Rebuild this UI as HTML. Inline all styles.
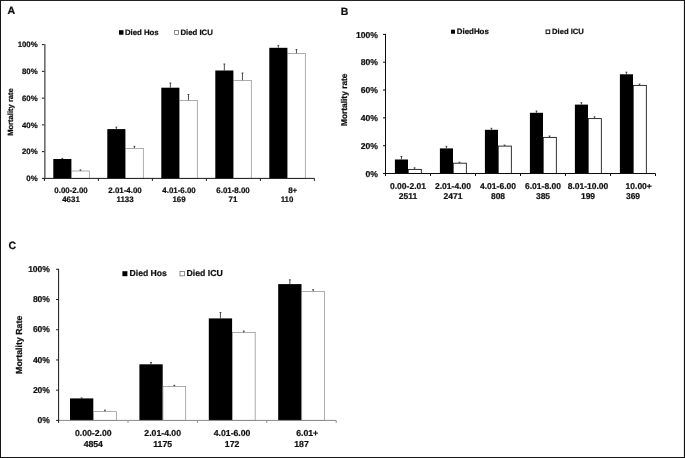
<!DOCTYPE html>
<html lang="en"><head><meta charset="utf-8"><title>Mortality rate figure</title>
<style>
html,body{margin:0;padding:0;background:#fff}
body{width:685px;height:458px;overflow:hidden}
svg{display:block}
svg text{font-family:"Liberation Sans",sans-serif;font-weight:bold;fill:#111;stroke:#111;stroke-width:0.22px;text-rendering:geometricPrecision}
</style></head><body>
<svg width="685" height="458" viewBox="0 0 685 458">
<defs><filter id="soft" x="-2%" y="-2%" width="104%" height="104%"><feGaussianBlur stdDeviation="0.35"/></filter></defs>
<rect x="0" y="0" width="685" height="458" fill="#fff"/>
<g filter="url(#soft)">
<rect x="53.3" y="159" width="18.1" height="19.4" fill="#000"/>
<rect x="71.65" y="171" width="17.6" height="7.4" fill="#fff" stroke="#777" stroke-width="0.6"/>
<path d="M62.35 159V158.3M61.45 158.3H63.25" stroke="#222" stroke-width="0.8" fill="none"/>
<path d="M80.45 170.7V169.9M79.55 169.9H81.35" stroke="#222" stroke-width="0.8" fill="none"/>
<rect x="107.3" y="129.1" width="18.1" height="49.3" fill="#000"/>
<rect x="125.65" y="148.4" width="17.6" height="30" fill="#fff" stroke="#777" stroke-width="0.6"/>
<path d="M116.35 129.1V127.1M115.45 127.1H117.25" stroke="#222" stroke-width="0.8" fill="none"/>
<path d="M134.45 148.1V146.4M133.55 146.4H135.35" stroke="#222" stroke-width="0.8" fill="none"/>
<rect x="161.3" y="87.7" width="18.1" height="90.7" fill="#000"/>
<rect x="179.65" y="100.5" width="17.6" height="77.9" fill="#fff" stroke="#777" stroke-width="0.6"/>
<path d="M170.35 87.7V83M169.45 83H171.25" stroke="#222" stroke-width="0.8" fill="none"/>
<path d="M188.45 100.2V94.5M187.55 94.5H189.35" stroke="#222" stroke-width="0.8" fill="none"/>
<rect x="215.3" y="70.5" width="18.1" height="107.9" fill="#000"/>
<rect x="233.65" y="80.5" width="17.6" height="97.9" fill="#fff" stroke="#777" stroke-width="0.6"/>
<path d="M224.35 70.5V64M223.45 64H225.25" stroke="#222" stroke-width="0.8" fill="none"/>
<path d="M242.45 80.2V73M241.55 73H243.35" stroke="#222" stroke-width="0.8" fill="none"/>
<rect x="269.3" y="47.8" width="18.1" height="130.6" fill="#000"/>
<rect x="287.65" y="53.5" width="17.6" height="124.9" fill="#fff" stroke="#777" stroke-width="0.6"/>
<path d="M278.35 47.8V45.6M277.45 45.6H279.25" stroke="#222" stroke-width="0.8" fill="none"/>
<path d="M296.45 53.2V49.6M295.55 49.6H297.35" stroke="#222" stroke-width="0.8" fill="none"/>
<path d="M44.4 178.4H314.4" stroke="#1a1a1a" stroke-width="1" fill="none"/>
<path d="M44.9 44.1V178.9" stroke="#1a1a1a" stroke-width="1" fill="none"/>
<path d="M41.9 178.4H44.4" stroke="#1a1a1a" stroke-width="1"/>
<text x="37.6" y="181.21" font-size="7.8" text-anchor="end">0%</text>
<path d="M41.9 151.64H44.4" stroke="#1a1a1a" stroke-width="1"/>
<text x="37.6" y="154.45" font-size="7.8" text-anchor="end">20%</text>
<path d="M41.9 124.88H44.4" stroke="#1a1a1a" stroke-width="1"/>
<text x="37.6" y="127.69" font-size="7.8" text-anchor="end">40%</text>
<path d="M41.9 98.12H44.4" stroke="#1a1a1a" stroke-width="1"/>
<text x="37.6" y="100.93" font-size="7.8" text-anchor="end">60%</text>
<path d="M41.9 71.36H44.4" stroke="#1a1a1a" stroke-width="1"/>
<text x="37.6" y="74.17" font-size="7.8" text-anchor="end">80%</text>
<path d="M41.9 44.6H44.4" stroke="#1a1a1a" stroke-width="1"/>
<text x="37.6" y="47.41" font-size="7.8" text-anchor="end">100%</text>
<path d="M44.4 178.4V180.9" stroke="#1a1a1a" stroke-width="1"/>
<path d="M98.4 178.4V180.9" stroke="#1a1a1a" stroke-width="1"/>
<path d="M152.4 178.4V180.9" stroke="#1a1a1a" stroke-width="1"/>
<path d="M206.4 178.4V180.9" stroke="#1a1a1a" stroke-width="1"/>
<path d="M260.4 178.4V180.9" stroke="#1a1a1a" stroke-width="1"/>
<path d="M314.4 178.4V180.9" stroke="#1a1a1a" stroke-width="1"/>
<text x="71" y="192.9" font-size="7.9" text-anchor="middle">0.00-2.00</text>
<text x="71" y="202.1" font-size="7.9" text-anchor="middle">4631</text>
<text x="125" y="192.9" font-size="7.9" text-anchor="middle">2.01-4.00</text>
<text x="125" y="202.1" font-size="7.9" text-anchor="middle">1133</text>
<text x="179" y="192.9" font-size="7.9" text-anchor="middle">4.01-6.00</text>
<text x="179" y="202.1" font-size="7.9" text-anchor="middle">169</text>
<text x="233" y="192.9" font-size="7.9" text-anchor="middle">6.01-8.00</text>
<text x="233" y="202.1" font-size="7.9" text-anchor="middle">71</text>
<text x="292.7" y="192.9" font-size="7.9" text-anchor="middle">8+</text>
<text x="287" y="202.1" font-size="7.9" text-anchor="middle">110</text>
<text transform="translate(12.7 112) rotate(-90)" font-size="7.6" text-anchor="middle">Mortality rate</text>
<text x="7.6" y="14.2" font-size="10.6">A</text>
<rect x="119" y="30.2" width="4.5" height="4.5" fill="#000"/>
<text x="124.9" y="35.2" font-size="7.8">Died Hos</text>
<rect x="174.7" y="30.5" width="3.9" height="3.9" fill="#fff" stroke="#444" stroke-width="0.6"/>
<text x="180.4" y="35.2" font-size="7.8">Died ICU</text>
<rect x="394.9" y="159.5" width="13.1" height="14" fill="#000"/>
<rect x="408.25" y="169.4" width="13.1" height="4.1" fill="#fff" stroke="#1a1a1a" stroke-width="0.9"/>
<path d="M401.45 159.5V156.5M400.55 156.5H402.35" stroke="#222" stroke-width="0.8" fill="none"/>
<path d="M414.55 169.1V167.8M413.65 167.8H415.45" stroke="#222" stroke-width="0.8" fill="none"/>
<rect x="439.9" y="148.4" width="13.1" height="25.1" fill="#000"/>
<rect x="453.25" y="163.2" width="13.1" height="10.3" fill="#fff" stroke="#1a1a1a" stroke-width="0.9"/>
<path d="M446.45 148.4V146.4M445.55 146.4H447.35" stroke="#222" stroke-width="0.8" fill="none"/>
<path d="M459.55 162.9V162.2M458.65 162.2H460.45" stroke="#222" stroke-width="0.8" fill="none"/>
<rect x="484.9" y="129.8" width="13.1" height="43.7" fill="#000"/>
<rect x="498.25" y="146.1" width="13.1" height="27.4" fill="#fff" stroke="#1a1a1a" stroke-width="0.9"/>
<path d="M491.45 129.8V128.3M490.55 128.3H492.35" stroke="#222" stroke-width="0.8" fill="none"/>
<path d="M504.55 145.8V145.1M503.65 145.1H505.45" stroke="#222" stroke-width="0.8" fill="none"/>
<rect x="529.9" y="112.8" width="13.1" height="60.7" fill="#000"/>
<rect x="543.25" y="137.4" width="13.1" height="36.1" fill="#fff" stroke="#1a1a1a" stroke-width="0.9"/>
<path d="M536.45 112.8V111M535.55 111H537.35" stroke="#222" stroke-width="0.8" fill="none"/>
<path d="M549.55 137.1V136M548.65 136H550.45" stroke="#222" stroke-width="0.8" fill="none"/>
<rect x="574.9" y="104.6" width="13.1" height="68.9" fill="#000"/>
<rect x="588.25" y="118.6" width="13.1" height="54.9" fill="#fff" stroke="#1a1a1a" stroke-width="0.9"/>
<path d="M581.45 104.6V102.7M580.55 102.7H582.35" stroke="#222" stroke-width="0.8" fill="none"/>
<path d="M594.55 118.3V116.8M593.65 116.8H595.45" stroke="#222" stroke-width="0.8" fill="none"/>
<rect x="619.9" y="74.3" width="13.1" height="99.2" fill="#000"/>
<rect x="633.25" y="85.4" width="13.1" height="88.1" fill="#fff" stroke="#1a1a1a" stroke-width="0.9"/>
<path d="M626.45 74.3V72.2M625.55 72.2H627.35" stroke="#222" stroke-width="0.8" fill="none"/>
<path d="M639.55 85.1V84.1M638.65 84.1H640.45" stroke="#222" stroke-width="0.8" fill="none"/>
<path d="M385.5 173.5H655.5" stroke="#0a0a0a" stroke-width="1" fill="none"/>
<path d="M385.5 33.9V174" stroke="#0a0a0a" stroke-width="1" fill="none"/>
<path d="M383 173.5H385.5" stroke="#0a0a0a" stroke-width="1"/>
<text x="378" y="176.7" font-size="8.6" text-anchor="end">0%</text>
<path d="M383 145.68H385.5" stroke="#0a0a0a" stroke-width="1"/>
<text x="378" y="148.88" font-size="8.6" text-anchor="end">20%</text>
<path d="M383 117.86H385.5" stroke="#0a0a0a" stroke-width="1"/>
<text x="378" y="121.06" font-size="8.6" text-anchor="end">40%</text>
<path d="M383 90.04H385.5" stroke="#0a0a0a" stroke-width="1"/>
<text x="378" y="93.24" font-size="8.6" text-anchor="end">60%</text>
<path d="M383 62.22H385.5" stroke="#0a0a0a" stroke-width="1"/>
<text x="378" y="65.42" font-size="8.6" text-anchor="end">80%</text>
<path d="M383 34.4H385.5" stroke="#0a0a0a" stroke-width="1"/>
<text x="378" y="37.6" font-size="8.6" text-anchor="end">100%</text>
<path d="M385.5 173.5V176" stroke="#0a0a0a" stroke-width="1"/>
<path d="M430.5 173.5V176" stroke="#0a0a0a" stroke-width="1"/>
<path d="M475.5 173.5V176" stroke="#0a0a0a" stroke-width="1"/>
<path d="M520.5 173.5V176" stroke="#0a0a0a" stroke-width="1"/>
<path d="M565.5 173.5V176" stroke="#0a0a0a" stroke-width="1"/>
<path d="M610.5 173.5V176" stroke="#0a0a0a" stroke-width="1"/>
<path d="M655.5 173.5V176" stroke="#0a0a0a" stroke-width="1"/>
<text x="408" y="188.6" font-size="8.5" text-anchor="middle">0.00-2.01</text>
<text x="408" y="198.7" font-size="8.5" text-anchor="middle">2511</text>
<text x="453" y="188.6" font-size="8.5" text-anchor="middle">2.01-4.00</text>
<text x="453" y="198.7" font-size="8.5" text-anchor="middle">2471</text>
<text x="498" y="188.6" font-size="8.5" text-anchor="middle">4.01-6.00</text>
<text x="498" y="198.7" font-size="8.5" text-anchor="middle">808</text>
<text x="543" y="188.6" font-size="8.5" text-anchor="middle">6.01-8.00</text>
<text x="543" y="198.7" font-size="8.5" text-anchor="middle">385</text>
<text x="588" y="188.6" font-size="8.5" text-anchor="middle">8.01-10.00</text>
<text x="588" y="198.7" font-size="8.5" text-anchor="middle">199</text>
<text x="638.7" y="188.6" font-size="8.5" text-anchor="middle">10.00+</text>
<text x="633" y="198.7" font-size="8.5" text-anchor="middle">369</text>
<text transform="translate(347 99.8) rotate(-90)" font-size="8.4" text-anchor="middle">Mortality rate</text>
<text x="340.7" y="14.5" font-size="10.5">B</text>
<rect x="451" y="29.7" width="4" height="4" fill="#000"/>
<text x="456.8" y="34.2" font-size="7.9">DiedHos</text>
<rect x="546.1" y="30" width="3.6" height="3.6" fill="#fff" stroke="#111" stroke-width="1"/>
<text x="552.1" y="34.2" font-size="7.6">Died ICU</text>
<rect x="70" y="398.4" width="23.3" height="22" fill="#000"/>
<rect x="93.55" y="411.7" width="22.8" height="8.7" fill="#fff" stroke="#777" stroke-width="0.6"/>
<path d="M81.65 398.4V397.9M80.75 397.9H82.55" stroke="#222" stroke-width="0.8" fill="none"/>
<path d="M104.95 411.4V410.1M104.05 410.1H105.85" stroke="#222" stroke-width="0.8" fill="none"/>
<rect x="139.4" y="364.3" width="23.3" height="56.1" fill="#000"/>
<rect x="162.95" y="386.6" width="22.8" height="33.8" fill="#fff" stroke="#777" stroke-width="0.6"/>
<path d="M151.05 364.3V362.5M150.15 362.5H151.95" stroke="#222" stroke-width="0.8" fill="none"/>
<path d="M174.35 386.3V385.3M173.45 385.3H175.25" stroke="#222" stroke-width="0.8" fill="none"/>
<rect x="208.8" y="318.4" width="23.3" height="102" fill="#000"/>
<rect x="232.35" y="332.6" width="22.8" height="87.8" fill="#fff" stroke="#777" stroke-width="0.6"/>
<path d="M220.45 318.4V312.5M219.55 312.5H221.35" stroke="#222" stroke-width="0.8" fill="none"/>
<path d="M243.75 332.3V331M242.85 331H244.65" stroke="#222" stroke-width="0.8" fill="none"/>
<rect x="278.2" y="284.1" width="23.3" height="136.3" fill="#000"/>
<rect x="301.75" y="291.4" width="22.8" height="129" fill="#fff" stroke="#777" stroke-width="0.6"/>
<path d="M289.85 284.1V279.8M288.95 279.8H290.75" stroke="#222" stroke-width="0.8" fill="none"/>
<path d="M313.15 291.1V289.7M312.25 289.7H314.05" stroke="#222" stroke-width="0.8" fill="none"/>
<path d="M58.6 420.4H336.2" stroke="#8a8a8a" stroke-width="1" fill="none"/>
<path d="M58.6 268.8V420.9" stroke="#1a1a1a" stroke-width="1" fill="none"/>
<path d="M56.1 420.4H58.6" stroke="#1a1a1a" stroke-width="1"/>
<text x="49.9" y="423.06" font-size="8.5" text-anchor="end">0%</text>
<path d="M56.1 390.18H58.6" stroke="#1a1a1a" stroke-width="1"/>
<text x="49.9" y="392.84" font-size="8.5" text-anchor="end">20%</text>
<path d="M56.1 359.96H58.6" stroke="#1a1a1a" stroke-width="1"/>
<text x="49.9" y="362.62" font-size="8.5" text-anchor="end">40%</text>
<path d="M56.1 329.74H58.6" stroke="#1a1a1a" stroke-width="1"/>
<text x="49.9" y="332.4" font-size="8.5" text-anchor="end">60%</text>
<path d="M56.1 299.52H58.6" stroke="#1a1a1a" stroke-width="1"/>
<text x="49.9" y="302.18" font-size="8.5" text-anchor="end">80%</text>
<path d="M56.1 269.3H58.6" stroke="#1a1a1a" stroke-width="1"/>
<text x="49.9" y="271.96" font-size="8.5" text-anchor="end">100%</text>
<path d="M58.6 420.4V422.9" stroke="#1a1a1a" stroke-width="1"/>
<path d="M128 420.4V422.9" stroke="#8a8a8a" stroke-width="1"/>
<path d="M197.4 420.4V422.9" stroke="#8a8a8a" stroke-width="1"/>
<path d="M266.8 420.4V422.9" stroke="#8a8a8a" stroke-width="1"/>
<path d="M336.2 420.4V422.9" stroke="#8a8a8a" stroke-width="1"/>
<text x="93.3" y="435.6" font-size="8.7" text-anchor="middle">0.00-2.00</text>
<text x="93.3" y="446.5" font-size="8.7" text-anchor="middle">4854</text>
<text x="162.7" y="435.6" font-size="8.7" text-anchor="middle">2.01-4.00</text>
<text x="162.7" y="446.5" font-size="8.7" text-anchor="middle">1175</text>
<text x="232.1" y="435.6" font-size="8.7" text-anchor="middle">4.01-6.00</text>
<text x="232.1" y="446.5" font-size="8.7" text-anchor="middle">172</text>
<text x="307.2" y="435.6" font-size="8.7" text-anchor="middle">6.01+</text>
<text x="301.5" y="446.5" font-size="8.7" text-anchor="middle">187</text>
<text transform="translate(21.7 344.8) rotate(-90)" font-size="8.8" text-anchor="middle">Mortality Rate</text>
<text x="8.6" y="249" font-size="10.6">C</text>
<rect x="122.4" y="271.2" width="5" height="5" fill="#000"/>
<text x="129.5" y="276.4" font-size="8.65">Died Hos</text>
<rect x="180" y="271.5" width="4.4" height="4.4" fill="#fff" stroke="#444" stroke-width="0.6"/>
<text x="186.5" y="276.4" font-size="8.7">Died ICU</text>
</g>
<path d="M0 0.45H685M0.5 0V458" stroke="#151515" stroke-width="1" fill="none"/>
<path d="M0 457.45H685M684.45 0V458" stroke="#151515" stroke-width="1.1" fill="none"/>
</svg>
</body></html>
